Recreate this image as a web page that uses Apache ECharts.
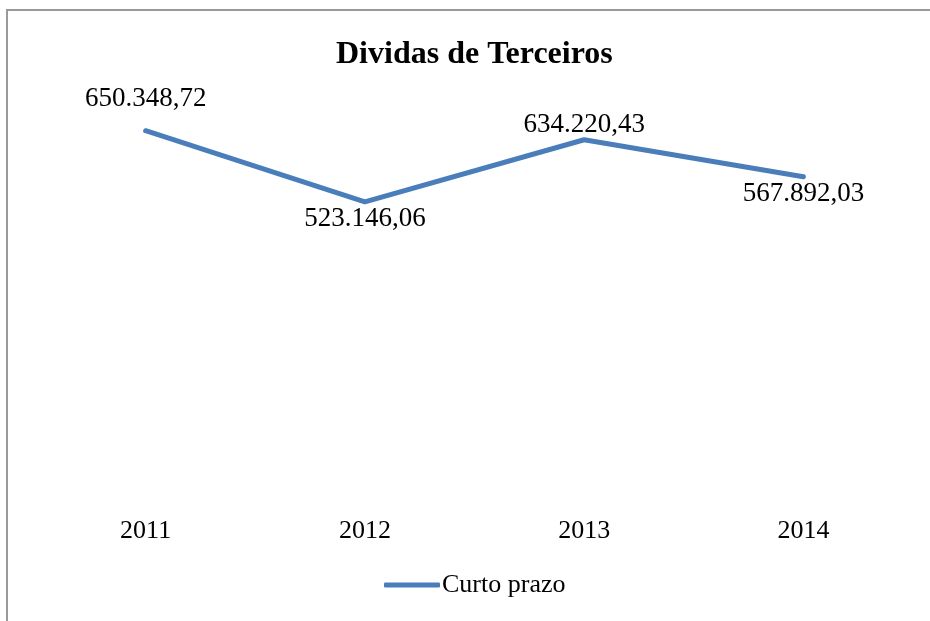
<!DOCTYPE html>
<html>
<head>
<meta charset="utf-8">
<script src="https://cdn.jsdelivr.net/npm/echarts@6/dist/echarts.min.js"></script>
<style>
  html, body { margin: 0; padding: 0; background: #fff; }
  #chart { width: 930px; height: 621px; }
</style>
</head>
<body>
<div id="chart"></div>
<script>
// dados do gráfico
const anos = ['2011', '2012', '2013', '2014']
const curtoPrazo = [650348.72, 523146.06, 634220.43, 567892.03]
const serieNome = 'Curto prazo'
const titulo = 'Dividas de Terceiros'

// formato 650.348,72
function fmt(v) {
  const parts = v.toFixed(2).split('.')
  return parts[0].replace(/\B(?=(\d{3})+(?!\d))/g, '.') + ',' + parts[1]
}

const serif = '"Liberation Serif", "DejaVu Serif", serif'
const azul = '#4A7EBB'
// posição do rótulo de cada ponto
const labelPos = [
  { position: 'top', distance: 18 },
  { position: 'bottom', distance: 3 },
  { position: 'top', distance: 1 },
  { position: 'bottom', distance: 3 }
]

const chart = echarts.init(document.getElementById('chart'))
chart.setOption({
  animation: false,
  backgroundColor: '#fff',
  graphic: [
    {
      type: 'rect',
      shape: { x: 7, y: 10, width: 1000, height: 1000 },
      style: { fill: 'none', stroke: '#999', lineWidth: 2 },
      silent: true
    }
  ],
  title: {
    text: titulo,
    left: 331,
    top: 34,
    textStyle: { fontFamily: serif, fontWeight: 'bold', fontSize: 32, color: '#000' }
  },
  legend: {
    bottom: 18,
    left: 379,
    itemWidth: 56,
    itemHeight: 5,
    itemGap: 4,
    icon: 'roundRect',
    itemStyle: { color: azul, opacity: 1 },
    textStyle: { fontFamily: serif, fontSize: 26, color: '#000', padding: [0, 0, 0, -3] },
    data: [serieNome]
  },
  grid: { left: 36, right: 17, top: 103, bottom: 127 },
  xAxis: {
    type: 'category',
    data: anos,
    boundaryGap: true,
    axisLine: { show: false },
    axisTick: { show: false },
    axisLabel: { margin: 24, fontFamily: serif, fontSize: 26, color: '#000' }
  },
  yAxis: {
    type: 'value',
    min: 0,
    max: 700000,
    show: false,
    splitLine: { show: false }
  },
  series: [
    {
      name: serieNome,
      type: 'line',
      data: curtoPrazo.map((v, i) => ({
        value: v,
        label: labelPos[i]
      })),
      symbol: 'circle',
      symbolSize: 1,
      showSymbol: true,
      itemStyle: { color: azul, opacity: 0 },
      color: azul,
      lineStyle: { width: 5, color: azul, cap: 'round', join: 'round' },
      label: {
        show: true,
        fontFamily: serif,
        fontSize: 27,
        color: '#000',
        opacity: 1,
        formatter: p => fmt(p.value)
      }
    }
  ]
})
</script>
</body>
</html>
